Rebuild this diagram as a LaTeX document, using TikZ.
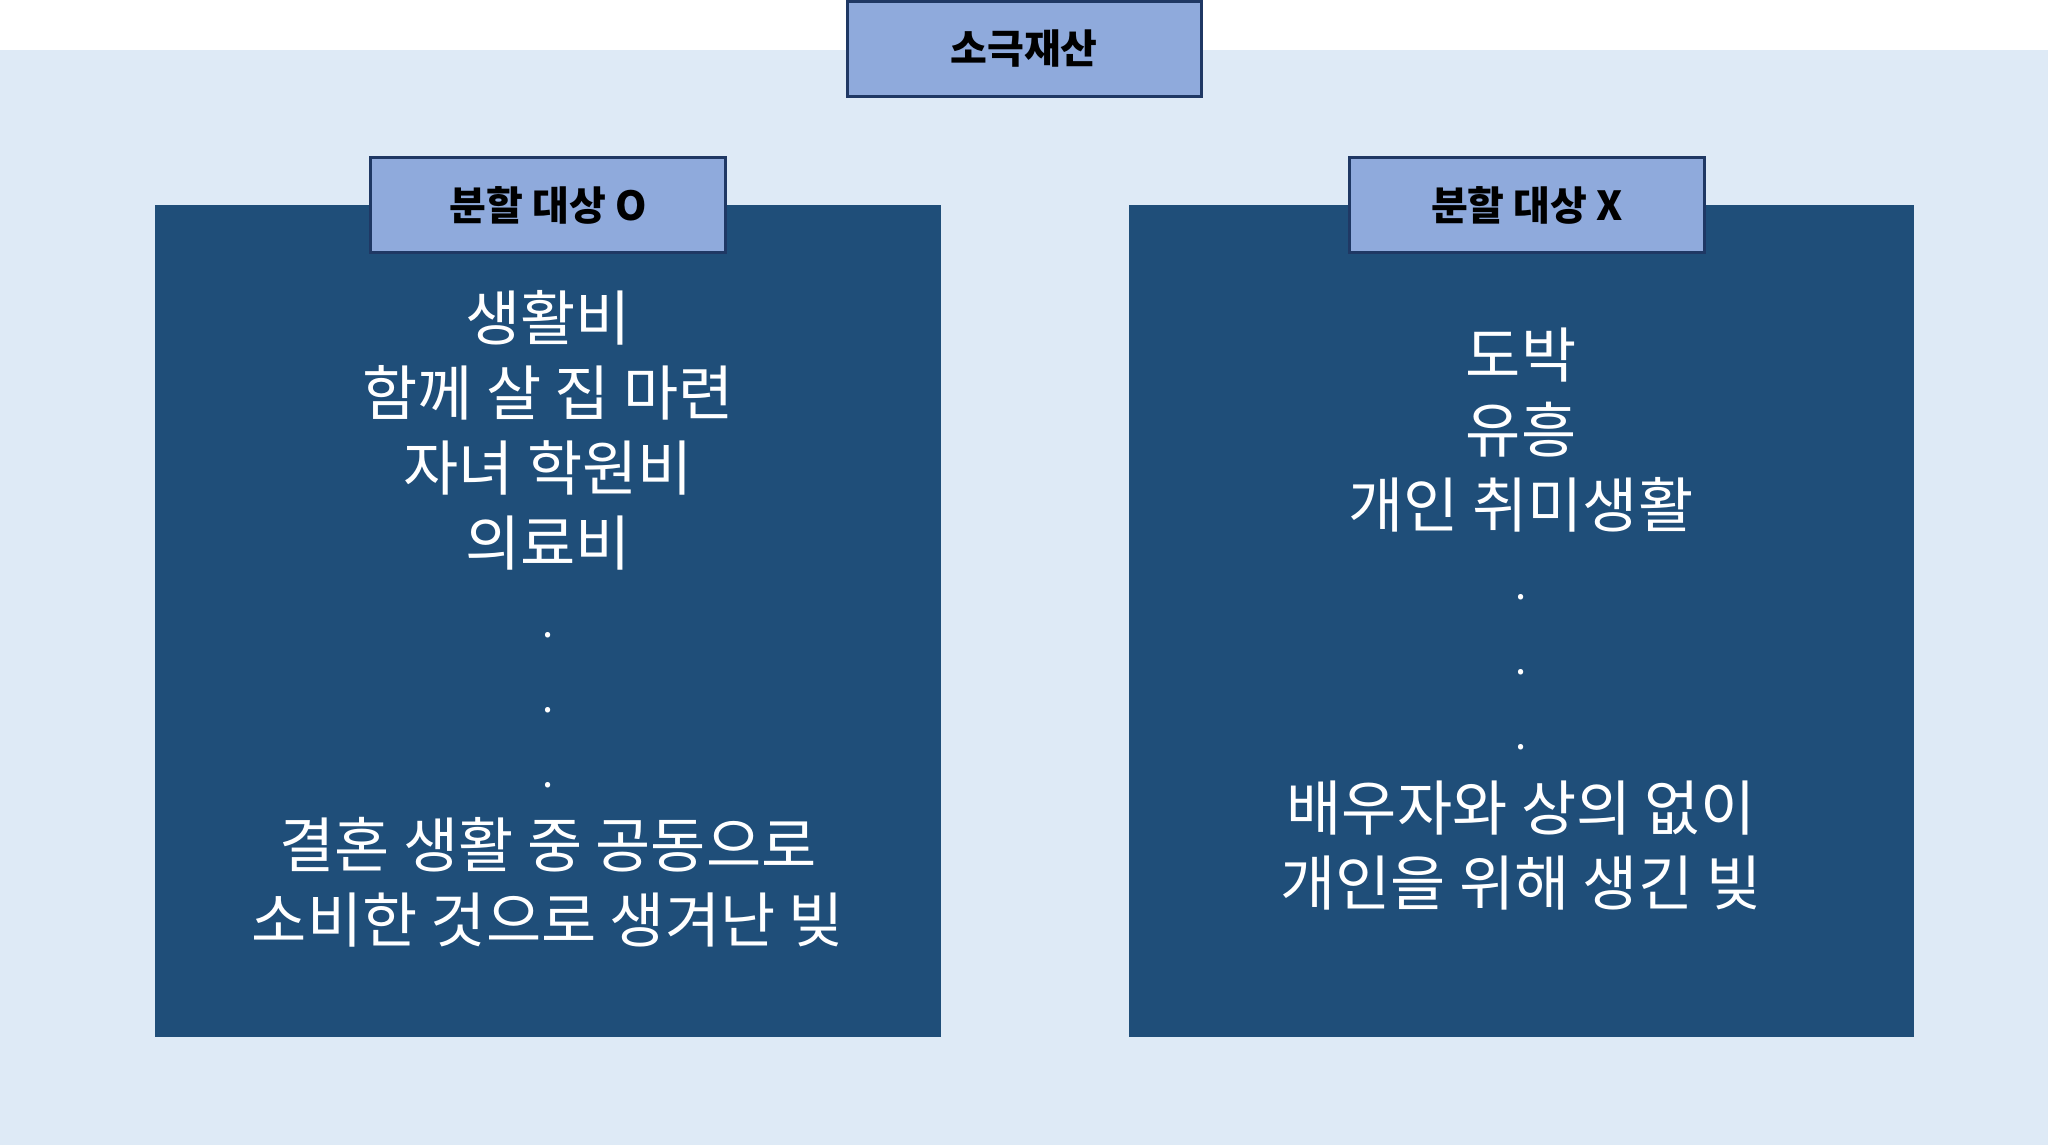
\documentclass[tikz,border=0pt]{standalone}
\usepackage{fontspec}
\newfontfamily\kr{Noto Sans CJK KR}
\begin{document}
\begin{tikzpicture}[x=1pt,y=-1pt,
  lbl/.style={draw=hdr,line width=3pt,fill=lab,font=\kr\bfseries\fontsize{40}{48}\selectfont,text=black,inner sep=0pt},
  item/.style={font=\kr\fontsize{60}{72}\selectfont,text=white,inner sep=0pt,anchor=center},
  dot/.style={font=\kr\fontsize{40}{48}\selectfont,text=white,inner sep=0pt}]
\definecolor{bg}{HTML}{DEEAF6}
\definecolor{panel}{HTML}{1F4E79}
\definecolor{lab}{HTML}{8FAADC}
\definecolor{hdr}{HTML}{1F3864}
\useasboundingbox (0,0) rectangle (2048,1145);
\fill[white] (0,0) rectangle (2048,1145);
\fill[bg] (0,50) rectangle (2048,1145);
\fill[panel] (155,205) rectangle (941,1037);
\fill[panel] (1129,205) rectangle (1914,1037);
\node[lbl,minimum width=354pt,minimum height=95pt] (top) at (1024,49) {소극재산};
\node[lbl,minimum width=355pt,minimum height=95pt] (lo) at (548,205) {분할 대상 O};
\node[lbl,minimum width=355pt,minimum height=95pt] (lx) at (1527,205) {분할 대상 X};
\node[item] (a1) at (548,318) {생활비};
\node[item] (a2) at (548,393) {함께 살 집 마련};
\node[item] (a3) at (548,468) {자녀 학원비};
\node[item] (a4) at (548,543) {의료비};
\node[dot] (ad1) at (548,635) {.};
\node[dot] (ad2) at (548,710) {.};
\node[dot] (ad3) at (548,785) {.};
\node[item] (a5) at (548,845) {결혼 생활 중 공동으로};
\node[item] (a6) at (548,920) {소비한 것으로 생겨난 빚};
\node[item] (b1) at (1521,355) {도박};
\node[item] (b2) at (1521,430) {유흥};
\node[item] (b3) at (1521,505) {개인 취미생활};
\node[dot] (bd1) at (1521,597) {.};
\node[dot] (bd2) at (1521,672) {.};
\node[dot] (bd3) at (1521,747) {.};
\node[item] (b4) at (1521,808) {배우자와 상의 없이};
\node[item] (b5) at (1521,883) {개인을 위해 생긴 빚};
\end{tikzpicture}
\end{document}
